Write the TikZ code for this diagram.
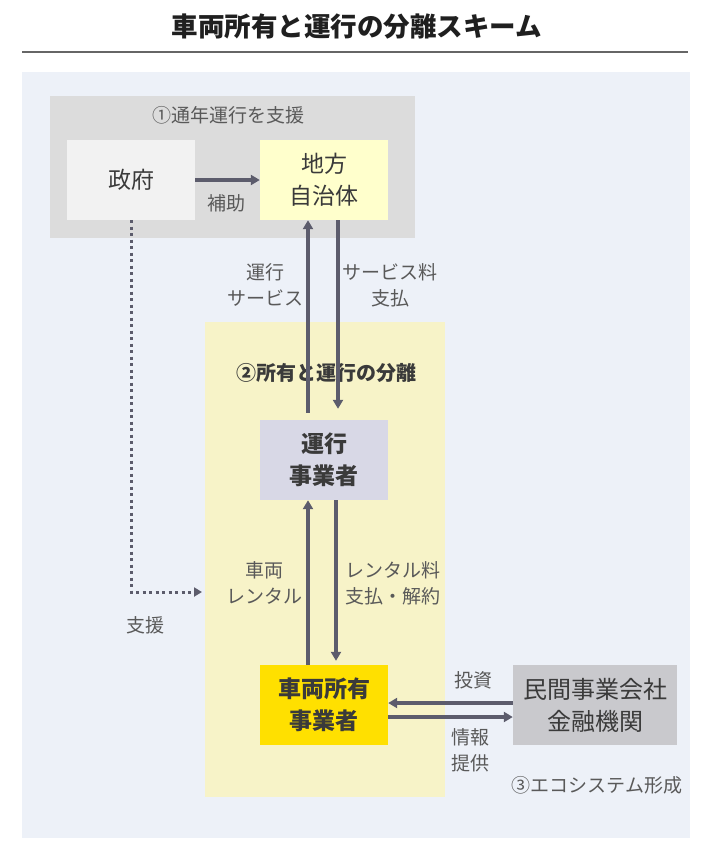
\documentclass[tikz,border=0pt]{standalone}
\usepackage{fontspec}
\setmainfont{Noto Sans CJK JP}
\usetikzlibrary{arrows.meta}
\definecolor{bgc}{HTML}{EDF1F8}
\definecolor{grayreg}{HTML}{DCDCDC}
\definecolor{govc}{HTML}{F2F2F2}
\definecolor{localc}{HTML}{FFFFCC}
\definecolor{yelreg}{HTML}{F7F3C8}
\definecolor{opc}{HTML}{D8D8E6}
\definecolor{ownc}{HTML}{FFE000}
\definecolor{privc}{HTML}{C9C9CD}
\definecolor{arrc}{HTML}{5C5C6C}
\definecolor{lblc}{HTML}{595959}
\definecolor{darkc}{HTML}{3A3A3A}
\begin{document}
\begin{tikzpicture}[x=1pt,y=-1pt,
  box/.style={minimum width=128pt,minimum height=80pt,inner sep=0pt,align=center,
    text=darkc,font=\fontsize{23}{32}\selectfont},
  lbl/.style={align=center,text=lblc,font=\fontsize{19}{26}\selectfont,inner sep=0pt},
  arr/.style={draw=arrc,line width=3.2pt,-{Triangle[length=9pt,width=10pt]}},
  dotarr/.style={draw=arrc,line width=3pt,dash pattern=on 3pt off 3.5pt,
    -{Triangle[length=8pt,width=9pt]}}]
\useasboundingbox (0,0) rectangle (708,841);
\fill[white] (0,0) rectangle (708,841);
% title
\node[font=\bfseries\fontsize{26.5}{30}\selectfont,text=black!88] (title) at (357,27) {車両所有と運行の分離スキーム};
\draw[black!60,line width=1.6pt] (22,52) -- (688,52);
% background
\fill[bgc] (22,72) rectangle (690,838);
% regions
\fill[grayreg] (50,96) rectangle (415,238);
\fill[yelreg] (205,322) rectangle (445,797);
\node[lbl] (r1) at (228,115) {①通年運行を支援};
\node[lbl,font=\bfseries\fontsize{20}{26}\selectfont,text=darkc] (r2) at (326,373) {②所有と運行の分離};
\node[lbl] (r3) at (597,785) {③エコシステム形成};
% boxes
\node[box,fill=govc] (gov) at (131,180) {政府};
\node[box,fill=localc] (local) at (324,180) {地方\\自治体};
\node[box,fill=opc,font=\bfseries\fontsize{23}{32}\selectfont] (op) at (324,460) {運行\\事業者};
\node[box,fill=ownc,font=\bfseries\fontsize{23}{32}\selectfont] (own) at (324,705) {車両所有\\事業者};
\node[box,fill=privc,minimum width=164pt,font=\fontsize{24}{32}\selectfont] (priv) at (595,705) {民間事業会社\\金融機関};
% arrows
\draw[arr] (gov.east) -- (local.west);
\node[lbl] (l1) at (226,203) {補助};
\draw[arr] ([xshift=-16pt,yshift=7pt]op.north) -- ([xshift=-16pt]local.south);
\draw[arr] ([xshift=14pt]local.south) -- ([xshift=14pt,yshift=11pt]op.north);
\node[lbl] (l2) at (265,285) {運行\\サービス};
\node[lbl] (l3) at (390,285) {サービス料\\支払};
\draw[arr] ([xshift=-16pt]own.north) -- ([xshift=-16pt]op.south);
\draw[arr] ([xshift=12pt]op.south) -- ([xshift=12pt,yshift=4pt]own.north);
\node[lbl] (l4) at (264,583) {車両\\レンタル};
\node[lbl] (l5) at (393,583) {レンタル料\\支払・解約};
\draw[arr] ([yshift=2pt]priv.west) -- ([yshift=2pt]own.east);
\draw[arr] ([yshift=-12pt]own.east) -- ([yshift=-12pt]priv.west);
\node[lbl] (l6) at (473,680) {投資};
\node[lbl] (l7) at (470,750) {情報\\提供};
% dotted support
\coordinate (dend) at (202,592);
\draw[dotarr] (gov.south) -- (gov.south |- dend) -- (dend);
\node[lbl] (l8) at (145,625) {支援};
\end{tikzpicture}
\end{document}
